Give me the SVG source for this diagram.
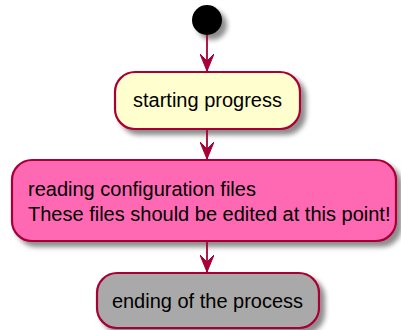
<svg xmlns="http://www.w3.org/2000/svg" width="401" height="330" viewBox="0 0 401 330">
<defs>
<filter id="sh" x="-20%" y="-20%" width="150%" height="150%">
<feGaussianBlur in="SourceAlpha" stdDeviation="2.5"/>
<feOffset dx="5" dy="5" result="b"/>
<feFlood flood-color="#000" flood-opacity="0.45"/>
<feComposite in2="b" operator="in"/>
<feMerge><feMergeNode/><feMergeNode in="SourceGraphic"/></feMerge>
</filter>
<marker id="ah" viewBox="0 0 17 14" refX="17" refY="7" markerWidth="17" markerHeight="14" markerUnits="userSpaceOnUse" orient="auto">
<path d="M0,0 L17,7 L0,14 L7,7 Z" fill="#A80036" stroke="#A80036" stroke-width="1"/>
</marker>
</defs>
<style>
.node{stroke:#A80036;stroke-width:2.2;filter:url(#sh)}
.t{font-family:"Liberation Sans",Arial,sans-serif;font-size:20px;fill:#000}
.edge{stroke:#A80036;stroke-width:1.8;fill:none}
</style>
<rect width="401" height="330" fill="#fff"/>
<g id="start">
<circle cx="207" cy="20" r="15" fill="#000" filter="url(#sh)"/>
</g>
<g id="n1">
<rect class="node" x="115" y="72" width="185" height="57" rx="20" ry="20" fill="#FEFECE"/>
<text class="t" x="207.5" y="107" text-anchor="middle">starting progress</text>
</g>
<g id="n2">
<rect class="node" x="12" y="160" width="384" height="81" rx="20" ry="20" fill="#FF69B4"/>
<text class="t" x="28" y="196">reading configuration files</text>
<text class="t" x="28" y="221">These files should be edited at this point!</text>
</g>
<g id="n3">
<rect class="node" x="97" y="273" width="222" height="55" rx="20" ry="20" fill="#A9A9A9"/>
<text class="t" x="207.5" y="308" text-anchor="middle">ending of the process</text>
</g>
<g id="edges">
<line class="edge" x1="207" y1="35" x2="207" y2="71" marker-end="url(#ah)"/>
<line class="edge" x1="207" y1="129" x2="207" y2="159" marker-end="url(#ah)"/>
<line class="edge" x1="207" y1="241" x2="207" y2="272" marker-end="url(#ah)"/>
</g>
</svg>
